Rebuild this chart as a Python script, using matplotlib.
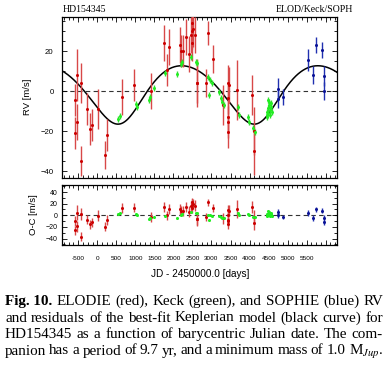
import numpy as np
import matplotlib
matplotlib.use('Agg')
import matplotlib.pyplot as plt
from matplotlib.ticker import MultipleLocator, FuncFormatter

plt.rcParams['font.family'] = ['Liberation Sans', 'DejaVu Sans']
plt.rcParams['mathtext.fontset'] = 'stix'

# ELODIE (red)
elodie_jd = [-586, -525, -437, -525, -586, -437, -278, -192, -130, 11, 202, 263, 657, 972,
             1410, 1760, 1884, 1823, 2172, 2198, 2243, 2322, 2418, 2453, 2480, 2480, 2495,
             2523, 2558, 2611, 2628, 2856, 2900, 3048, 3310, 3425, 3442, 3442, 3442, 3442,
             3460, 3662, 4057, 4116, 4124]
elodie_rv = [-4.4, 8.2, 4.0, -15.2, -21.0, -34.7, -9.0, -19.0, -17.0, -9.0, -32.0, -22.0, -3.0, 3.0,
             0.0, 24.0, 22.0, 10.6, 23.0, 20.0, 20.0, 27.0, 18.6, 28.0, 24.0, 34.0, 30.0,
             31.0, 28.0, 4.0, 4.0, 4.0, 29.0, 16.0, -7.0, 4.0, -3.5, -12.7, -15.2, -20.2,
             3.0, 0.7, -1.8, -20.0, -30.0]
elodie_err = [8, 13, 10, 9, 8, 7.5, 8, 8, 8, 10, 7, 8, 9, 8,
              9, 9, 9, 8, 9, 8, 8, 9, 9, 9, 9, 8, 9,
              9, 9, 12, 10, 7, 6, 7, 10, 9, 8, 8, 8, 8,
              9, 15, 10, 12, 12]

# Keck (green)
keck_jd = [552, 593, 1009, 1035, 1367, 1384, 1498, 1778, 2086, 2198, 2217, 2453, 2593, 2611,
           2916, 2961, 3005, 2942, 3205, 3242, 3284, 3328, 3704, 3730, 3967, 3993, 4098, 4143,
           4450, 4466, 4492, 4511, 4518, 4492, 4537, 4555, 4466, 4537, 4563, 4492, 4581]
keck_rv = [-14.0, -12.5, -6.5, -8.0, -4.5, -3.0, 1.8, 9.0, 8.5, 13.5, 14.5, 17.0, 14.8, 14.0,
           7.3, 5.6, 4.0, -1.8, -0.2, -3.5, -5.5, -6.8, -7.7, -11.8, -12.7, -15.2, -18.5, -20.2,
           -11.8, -10.2, -8.5, -6.8, -5.2, -11.0, -9.4, -7.7, -12.7, -11.8, -6.0, -4.3, -10.2]
keck_err = [1.5] * len(keck_jd)

# SOPHIE (blue)
sophie_jd = [4756, 4740, 4886, 5543, 5675, 5737, 5911, 5955, 5955]
sophie_rv = [1.2, -3.9, -3.0, 15.5, 8.0, 23.0, 20.6, 7.5, 0.3]
sophie_err = [5.5, 4.5, 4.0, 5.5, 4.5, 4.0, 4.0, 5.0, 4.5]

# best-fit Keplerian
P = 3580.0
ecc = 0.135
omega = np.radians(202.6)
T0 = 714.0
K = 14.6
gamma = 0.0


def kepler_rv(t):
    t = np.asarray(t, dtype=float)
    M = 2 * np.pi * (t - T0) / P
    E = M.copy()
    for _ in range(40):
        E = E - (E - ecc * np.sin(E) - M) / (1 - ecc * np.cos(E))
    nu = 2 * np.arctan2(np.sqrt(1 + ecc) * np.sin(E / 2), np.sqrt(1 - ecc) * np.cos(E / 2))
    return gamma + K * (np.cos(nu + omega) + ecc * np.cos(omega))


fig = plt.figure(figsize=(3.88, 3.65), dpi=100)
ax1 = fig.add_axes([0.1598, 0.5115, 0.7095, 0.4427])
ax2 = fig.add_axes([0.1598, 0.3274, 0.7095, 0.1671])

xlim = (-927, 6305)
tt = np.linspace(xlim[0], xlim[1], 800)
ax1.plot(tt, kepler_rv(tt), color='black', lw=1.1, zorder=2)

sets = [(elodie_jd, elodie_rv, elodie_err, '#cc0000', '#d84848'),
        (keck_jd, keck_rv, keck_err, '#22ee22', '#33dd33'),
        (sophie_jd, sophie_rv, sophie_err, '#0a1296', '#2030b0')]
for jd, rv, err, c, ec in sets:
    jd = np.array(jd, dtype=float)
    rv = np.array(rv, dtype=float)
    ax1.errorbar(jd, rv, yerr=err, fmt='o', ms=2.2, color=c, ecolor=ec,
                 elinewidth=1.0, capsize=0, mew=0, zorder=3)
    ax2.errorbar(jd, rv - kepler_rv(jd), yerr=err, fmt='o', ms=2.2, color=c, ecolor=ec,
                 elinewidth=1.0, capsize=0, mew=0, zorder=3)

for ax in (ax1, ax2):
    ax.axhline(0, color='#333333', ls=(0, (4, 3)), lw=0.8, zorder=1)
    ax.set_xlim(*xlim)
    ax.xaxis.set_major_locator(MultipleLocator(500))
    ax.xaxis.set_minor_locator(MultipleLocator(125))
    ax.tick_params(which='both', direction='in', top=True, right=True, width=0.6)
    ax.tick_params(which='major', length=3.5)
    ax.tick_params(which='minor', length=2.2)
    for s in ax.spines.values():
        s.set_linewidth(0.9)

ax1.set_ylim(-43.5, 37.3)
ax1.yaxis.set_major_locator(MultipleLocator(20))
ax1.yaxis.set_minor_locator(MultipleLocator(5))
ax1.tick_params(axis='x', labelbottom=False)
ax1.tick_params(axis='y', labelsize=5.6, pad=6)

ax2.set_ylim(-52, 53)
ax2.yaxis.set_major_locator(MultipleLocator(20))
ax2.yaxis.set_minor_locator(MultipleLocator(10))
ax2.tick_params(axis='y', labelsize=5.0, pad=3)
ax2.tick_params(axis='x', labelsize=4.6, pad=7.5)
ax2.xaxis.set_major_formatter(FuncFormatter(lambda v, p: '%d' % v if -500 <= v <= 5500 else ''))

fig.text(27.7 / 388, 0.734, 'RV [m/s]', rotation=90, ha='center', va='center', fontsize=6.8)
fig.text(34 / 388, 0.4123, 'O-C [m/s]', rotation=90, ha='center', va='center', fontsize=6.8)
fig.text(200 / 388, 0.2493, 'JD - 2450000.0 [days]', ha='center', va='center', fontsize=7.2)

fig.text(62.5 / 388, 1 - 9.5 / 365, 'HD154345', family='Liberation Serif', fontsize=7, va='center')
fig.text(353 / 388, 1 - 9.5 / 365, 'ELOD/Keck/SOPH', family='Liberation Serif', fontsize=7,
         va='center', ha='right')

# justified caption
caption = [
    [('Fig. 10.', 'bold')] + [(w, 'normal') for w in 'ELODIE (red), Keck (green), and SOPHIE (blue) RV'.split()],
    [(w, 'normal') for w in 'and residuals of the best-fit Keplerian model (black curve) for'.split()],
    [(w, 'normal') for w in 'HD154345 as a function of barycentric Julian date. The com-'.split()],
    [(w, 'normal') for w in 'panion has a period of 9.7 yr, and a minimum mass of 1.0'.split()]
    + [(r'M$_{\mathit{Jup}}$.', 'normal')],
]
baselines = [1 - 305 / 365, 1 - 321.5 / 365, 1 - 338 / 365, 1 - 354.5 / 365]
x_left, x_right = 5 / 388, 383 / 388

fig.canvas.draw()
r = fig.canvas.get_renderer()
for toks, yb in zip(caption, baselines):
    texts = [fig.text(0, yb, w, family='Liberation Serif', weight=wt, fontsize=10.9, va='baseline')
             for w, wt in toks]
    widths = [t.get_window_extent(r).width / fig.bbox.width for t in texts]
    gap = (x_right - x_left - sum(widths)) / (len(texts) - 1)
    x = x_left
    for t, w in zip(texts, widths):
        t.set_x(x)
        x += w + gap

fig.savefig('out.png', dpi=100)
